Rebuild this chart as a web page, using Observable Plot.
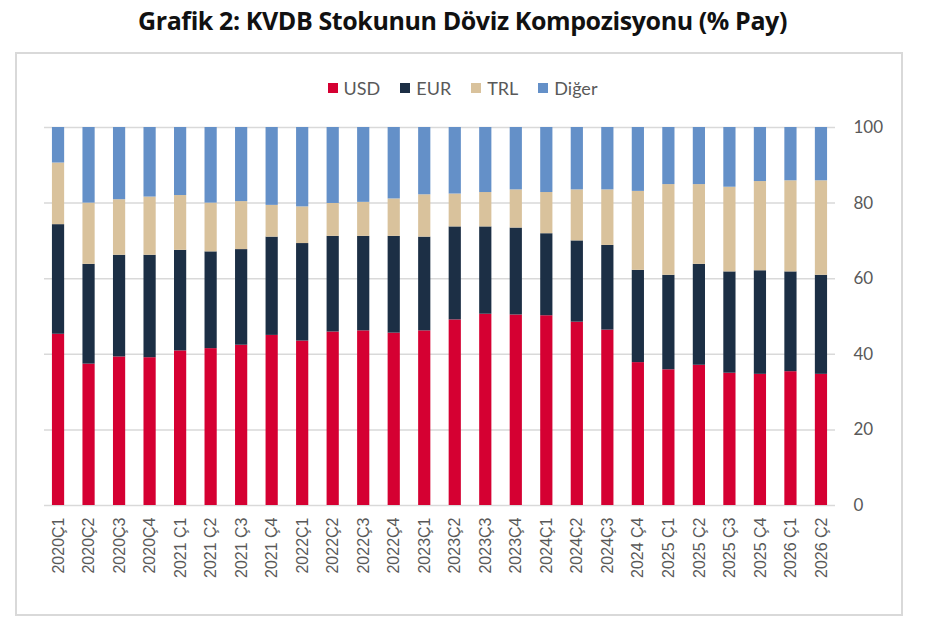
<!DOCTYPE html>
<html>
<head>
<meta charset="utf-8">
<script src="https://cdn.jsdelivr.net/npm/d3@7"></script>
<script src="https://cdn.jsdelivr.net/npm/@observablehq/plot@0.6"></script>
<style>
  body { margin: 0; background: #fff; width: 925px; height: 633px; position: relative; overflow: hidden; }
  #title { position: absolute; left: 0; top: 3px; width: 925px; text-align: center; font-family: "Open Sans", sans-serif; font-weight: 700; font-size: 25px; color: #111; letter-spacing: -0.4px; }
  #frame { position: absolute; left: 15px; top: 52px; width: 888px; height: 564px; border: 2px solid #d9d9d9; box-sizing: border-box; }
  #legend { position: absolute; left: 0; top: 77px; width: 925px; display: flex; justify-content: center; gap: 20px; font-family: Lato, sans-serif; font-size: 18px; color: #595959; }
  #legend span.item { display: inline-flex; align-items: center; }
  #legend span.sw { display: inline-block; width: 10px; height: 10px; margin-right: 6px; }
  #chart { position: absolute; left: 0; top: 0; }
</style>
</head>
<body>
<div id="title">Grafik 2: KVDB Stokunun Döviz Kompozisyonu (% Pay)</div>
<div id="frame"></div>
<div id="legend"></div>
<div id="chart"></div>
<script>
const periods = ["2020Ç1","2020Ç2","2020Ç3","2020Ç4","2021 Ç1","2021 Ç2","2021 Ç3","2021 Ç4","2022Ç1","2022Ç2","2022Ç3","2022Ç4","2023Ç1","2023Ç2","2023Ç3","2023Ç4","2024Ç1","2024Ç2","2024Ç3","2024 Ç4","2025 Ç1","2025 Ç2","2025 Ç3","2025 Ç4","2026 Ç1","2026 Ç2"];
const usd   = [45.3,37.4,39.3,39.1,40.9,41.5,42.4,45.0,43.5,45.9,46.2,45.6,46.2,49.1,50.6,50.4,50.2,48.5,46.4,37.8,35.9,37.1,35.0,34.7,35.4,34.7];
const eur   = [29.0,26.4,26.9,27.1,26.6,25.6,25.3,26.0,25.8,25.3,25.0,25.6,24.8,24.6,23.1,23.0,21.7,21.5,22.4,24.4,25.0,26.7,26.8,27.4,26.4,26.2];
const trl   = [16.3,16.2,14.7,15.4,14.5,12.9,12.7,8.4,9.7,8.7,9.0,9.9,11.2,8.7,9.1,10.1,10.9,13.5,14.7,20.9,24.0,21.1,22.4,23.6,24.1,25.0];
const diger = [9.4,20.0,19.1,18.4,18.0,20.0,19.6,20.6,21.0,20.1,19.8,18.9,17.8,17.6,17.2,16.5,17.2,16.5,16.5,16.9,15.1,15.1,15.8,14.3,14.1,14.1];
const seriesNames = ["USD","EUR","TRL","Diğer"];
const seriesColors = ["#d50032","#1c2f45","#d9c29c","#6490c8"];
const yTicks = [0,20,40,60,80,100];

const seriesValues = [usd, eur, trl, diger];
const data = [];
periods.forEach((p, i) => {
  seriesNames.forEach((s, j) => data.push({period: p, series: s, value: seriesValues[j][i]}));
});

const legend = document.getElementById("legend");
seriesNames.forEach((s, j) => {
  const it = document.createElement("span");
  it.className = "item";
  const sw = document.createElement("span");
  sw.className = "sw";
  sw.style.background = seriesColors[j];
  it.appendChild(sw);
  it.appendChild(document.createTextNode(s));
  legend.appendChild(it);
});

const chart = Plot.plot({
  width: 925,
  height: 633,
  marginTop: 127,
  marginBottom: 128,
  marginLeft: 44,
  marginRight: 90,
  style: { background: "transparent" },
  x: { domain: periods, paddingInner: 0.6, paddingOuter: 0.26, round: false, label: null },
  y: { domain: [0, 100], label: null },
  color: { domain: seriesNames, range: seriesColors },
  marks: [
    Plot.ruleY(yTicks, { stroke: "#d9d9d9", strokeWidth: 1.5 }),
    Plot.barY(data, { x: "period", y: "value", fill: "series", order: seriesNames, inset: 0 }),
    Plot.axisX({ tickSize: 0, tickPadding: 12, tickRotate: -90, fontSize: 16, fontFamily: "Liberation Sans, sans-serif", fill: "#595959", label: null }),
    Plot.axisY({ anchor: "right", ticks: yTicks, tickSize: 0, tickPadding: 18, textAnchor: "start", fontSize: 17, fontFamily: "Lato, sans-serif", fill: "#595959", label: null })
  ]
});
document.getElementById("chart").appendChild(chart);
</script>
</body>
</html>
